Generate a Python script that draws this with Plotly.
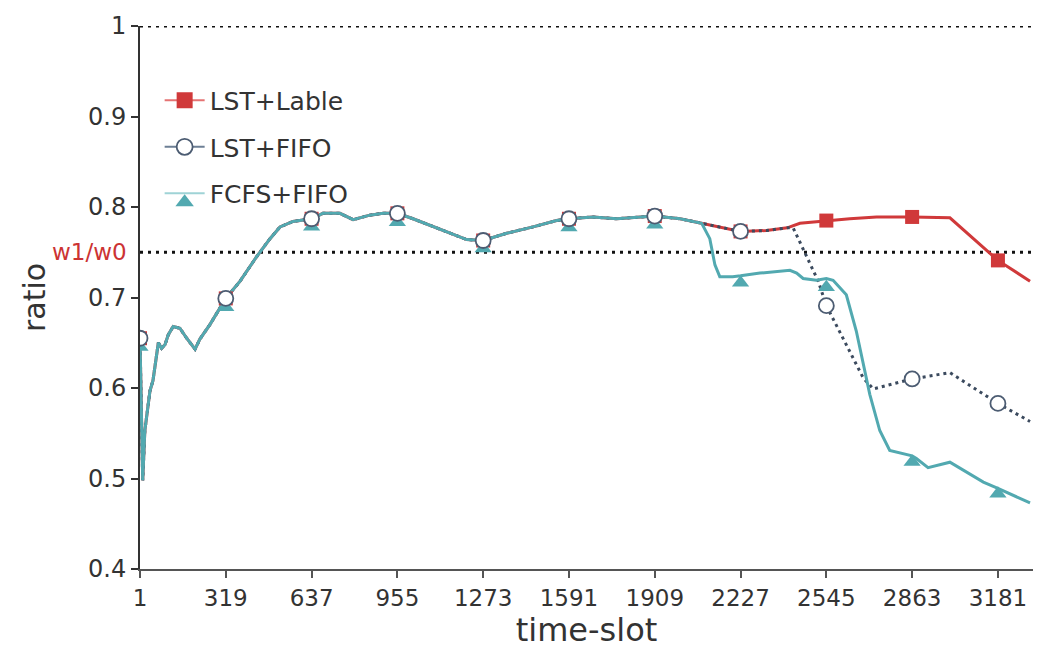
import plotly.graph_objects as go

# ---------------- data ----------------
# shared part of all three curves (time-slot, ratio)
shared_t = [1, 11, 19, 38, 49, 69, 81, 94, 106, 124, 149, 174, 205, 223, 260, 297, 319,
            372, 433, 483, 520, 568, 637, 679, 742, 791, 853, 902, 955, 1013, 1113, 1212,
            1273, 1360, 1458, 1545, 1591, 1680, 1768, 1854, 1909, 2003, 2083]
shared_v = [0.655, 0.498, 0.553, 0.597, 0.608, 0.650, 0.644, 0.648, 0.659, 0.668, 0.666, 0.655,
            0.643, 0.654, 0.670, 0.688, 0.699, 0.718, 0.745, 0.765, 0.778, 0.784, 0.787, 0.793,
            0.793, 0.786, 0.791, 0.793, 0.793, 0.787, 0.775, 0.764, 0.763, 0.771, 0.778, 0.785,
            0.787, 0.789, 0.787, 0.789, 0.790, 0.787, 0.782]

# LST+Lable tail
lable_t = [2150, 2227, 2323, 2400, 2447, 2484, 2545, 2632, 2731, 2863, 3003, 3181, 3300]
lable_v = [0.778, 0.773, 0.774, 0.777, 0.782, 0.783, 0.785, 0.787, 0.789, 0.789, 0.788, 0.741, 0.718]

# LST+FIFO tail
fifo_t = [2150, 2227, 2323, 2400, 2422, 2465, 2515, 2545, 2682, 2719, 2863, 3003, 3181, 3300]
fifo_v = [0.778, 0.773, 0.774, 0.777, 0.777, 0.749, 0.718, 0.691, 0.611, 0.599, 0.610, 0.617, 0.583, 0.563]

# FCFS+FIFO tail
fcfs_t = [2113, 2132, 2150, 2198, 2227, 2299, 2410, 2435, 2459, 2508, 2545, 2570, 2619, 2656,
          2706, 2743, 2780, 2842, 2863, 2879, 2922, 3003, 3127, 3181, 3300]
fcfs_v = [0.765, 0.736, 0.723, 0.723, 0.724, 0.727, 0.730, 0.727, 0.721, 0.719, 0.721, 0.719,
          0.703, 0.663, 0.593, 0.553, 0.531, 0.527, 0.525, 0.522, 0.512, 0.518, 0.496, 0.489, 0.473]

# marker positions (every 318 slots) and marker values
mark_t = [1, 319, 637, 955, 1273, 1591, 1909, 2227, 2545, 2863, 3181]
lable_mark_v = [0.655, 0.699, 0.787, 0.793, 0.763, 0.787, 0.790, 0.773, 0.785, 0.789, 0.741]
fifo_mark_v = [0.655, 0.699, 0.787, 0.793, 0.763, 0.787, 0.790, 0.773, 0.691, 0.610, 0.583]
fcfs_mark_v = [0.653, 0.697, 0.786, 0.791, 0.762, 0.785, 0.788, 0.724, 0.719, 0.526, 0.491]

tick_vals = mark_t
y_ticks = [0.4, 0.5, 0.6, 0.7, 0.8, 0.9, 1.0]
y_tick_text = ["0.4", "0.5", "0.6", "0.7", "0.8", "0.9", "1"]
ref_level = 0.75
top_level = 1.0
names = ["LST+Lable", "LST+FIFO", "FCFS+FIFO"]

# ---------------- styling ----------------
RED = "#d0393a"
SLATE = "#3b4a5e"
CIRCLE_EDGE = "#4c5c72"
TEAL = "#52a9b0"
FONT = "DejaVu Sans"
TXT = "#333333"

lable_x = shared_t + lable_t
lable_y = shared_v + lable_v
fifo_x = shared_t + fifo_t
fifo_y = shared_v + fifo_v
fcfs_x = shared_t + fcfs_t
fcfs_y = shared_v + fcfs_v

fig = go.Figure()

# lines
fig.add_trace(go.Scatter(x=lable_x, y=lable_y, mode="lines", line=dict(color=RED, width=3),
                         legendgroup="a", showlegend=False, hoverinfo="skip"))
fig.add_trace(go.Scatter(x=fifo_x, y=fifo_y, mode="lines",
                         line=dict(color=SLATE, width=3, dash="3px,4px"),
                         legendgroup="b", showlegend=False, hoverinfo="skip"))
fig.add_trace(go.Scatter(x=fcfs_x, y=fcfs_y, mode="lines", line=dict(color=TEAL, width=3),
                         legendgroup="c", showlegend=False, hoverinfo="skip"))

# markers
fig.add_trace(go.Scatter(x=mark_t, y=lable_mark_v, mode="markers",
                         marker=dict(symbol="square", size=14, color=RED),
                         legendgroup="a", showlegend=False))
fig.add_trace(go.Scatter(x=mark_t, y=fcfs_mark_v, mode="markers",
                         marker=dict(symbol="triangle-up", size=15, color=TEAL, standoff=7),
                         legendgroup="c", showlegend=False))
fig.add_trace(go.Scatter(x=mark_t, y=fifo_mark_v, mode="markers",
                         marker=dict(symbol="circle", size=15, color="white",
                                     line=dict(color=CIRCLE_EDGE, width=1.8)),
                         legendgroup="b", showlegend=False))

# legend entries
fig.add_trace(go.Scatter(x=[None], y=[None], mode="lines+markers", name=names[0],
                         line=dict(color="#e57373", width=2),
                         marker=dict(symbol="square", size=16, color=RED), legendgroup="a"))
fig.add_trace(go.Scatter(x=[None], y=[None], mode="lines+markers", name=names[1],
                         line=dict(color="#6d7f95", width=2),
                         marker=dict(symbol="circle", size=17, color="white",
                                     line=dict(color=CIRCLE_EDGE, width=1.8)), legendgroup="b"))
fig.add_trace(go.Scatter(x=[None], y=[None], mode="lines+markers", name=names[2],
                         line=dict(color="#9fd3d6", width=2),
                         marker=dict(symbol="triangle-down", angle=180, size=17, color=TEAL,
                                     standoff=9),
                         legendgroup="c"))

# dotted reference lines
for lvl in (top_level, ref_level):
    fig.add_shape(type="line", xref="x domain", yref="y", x0=0, x1=1, y0=lvl, y1=lvl,
                  line=dict(color="#111111", width=3, dash="3px,5px"), layer="below")

fig.add_annotation(xref="paper", yref="y", x=0, y=ref_level, xanchor="right", yanchor="middle",
                   xshift=-11, text="w1/w0", showarrow=False,
                   font=dict(family=FONT, size=23, color="#cc3333"))

fig.update_layout(
    width=1048, height=649,
    margin=dict(l=140, r=15, t=23, b=80),
    plot_bgcolor="white", paper_bgcolor="white",
    font=dict(family=FONT, color=TXT),
    legend=dict(x=0.022, y=0.905, xanchor="left", yanchor="top",
                font=dict(family=FONT, size=25, color=TXT),
                bgcolor="rgba(0,0,0,0)", tracegroupgap=11, itemwidth=40),
    xaxis=dict(range=[1, 3311], tickvals=tick_vals, ticktext=[str(v) for v in tick_vals],
               showgrid=False, zeroline=False, showline=True, linecolor="#555555", linewidth=2,
               ticks="outside", ticklen=7, tickwidth=1.5, tickcolor="#555555",
               tickfont=dict(family=FONT, size=23, color=TXT),
               title=dict(text="time-slot", font=dict(family=FONT, size=32, color=TXT), standoff=2)),
    yaxis=dict(range=[0.4, 1.0], tickvals=y_ticks, ticktext=y_tick_text,
               showgrid=False, zeroline=False, showline=True, linecolor="#333333", linewidth=2,
               ticks="outside", ticklen=7, tickwidth=1.5, tickcolor="#333333",
               tickfont=dict(family=FONT, size=24, color=TXT),
               title=dict(text="ratio", font=dict(family=FONT, size=30, color=TXT), standoff=34)),
)

fig.write_html("out.html")
